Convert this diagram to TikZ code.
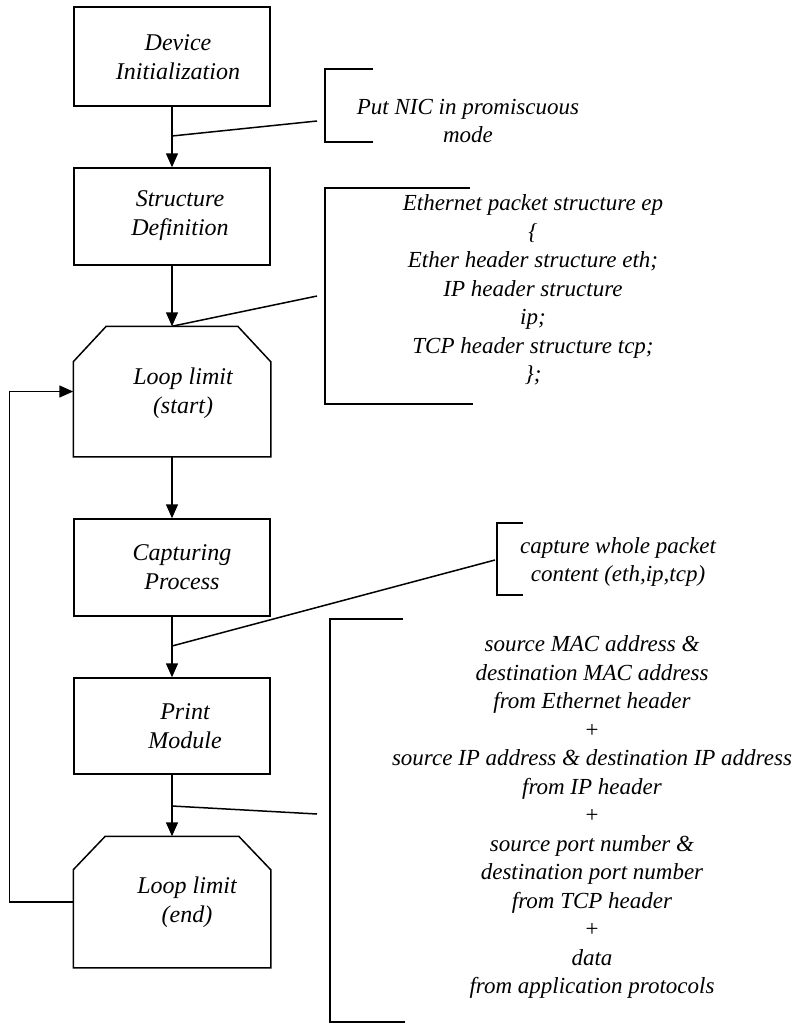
\documentclass[tikz,border=0pt]{standalone}
\usepackage{fontspec}
\setmainfont{Liberation Serif}
\usetikzlibrary{arrows.meta}
\begin{document}
\begin{tikzpicture}[x=1pt,y=-1pt,
  line width=1.5pt,
  every node/.style={font=\fontsize{23}{28.5}\selectfont\itshape, align=center},
  procbox/.style={draw, rectangle, minimum width=196pt, minimum height=97pt, inner sep=0pt},
  loopbox/.style={draw=none, rectangle, minimum width=196pt, minimum height=129pt, inner sep=0pt},
  flow/.style={-{Triangle[width=12pt,length=14pt]}},
  txt/.style={inner sep=0pt},
  boxtxt/.style={inner sep=0pt, font=\fontsize{24}{29}\selectfont\itshape}]
\useasboundingbox (0,0) rectangle (795,1026);

% process boxes
\node[procbox, minimum height=99pt] (dev) at (172,56.5) {};
\node[procbox] (str) at (172,216.5) {};
\node[loopbox] (ls) at (172,391.5) {};
\node[procbox] (cap) at (172,567.5) {};
\node[procbox, minimum height=96pt] (prt) at (172,726) {};
\node[loopbox, minimum height=130pt] (le) at (172,902) {};

% loop limit outlines (chamfered tops)
\draw (ls.south west) -- ([yshift=95pt]ls.south west) -- ([xshift=33pt]ls.north west)
  -- ([xshift=-33pt]ls.north east) -- ([yshift=95pt]ls.south east) -- (ls.south east) -- cycle;
\draw (le.south west) -- ([yshift=98pt]le.south west) -- ([xshift=32pt]le.north west)
  -- ([xshift=-32pt]le.north east) -- ([yshift=98pt]le.south east) -- (le.south east) -- cycle;

% box texts
\node[boxtxt] (tdev) at (178,57.5) {Device\\Initialization};
\node[boxtxt] (tstr) at (180,216) {Structure\\Definition};
\node[boxtxt] (tls) at (183,393) {Loop limit\\(start)};
\node[boxtxt] (tcap) at (182,567) {Capturing\\Process};
\node[boxtxt] (tprt) at (185,726) {Print\\Module};
\node[boxtxt] (tle) at (187,902) {Loop limit\\(end)};

% flow arrows
\draw[flow] (dev.south) -- (str.north);
\draw[flow] (str.south) -- (ls.north);
\draw[flow] (ls.south) -- (cap.north);
\draw[flow] (cap.south) -- (prt.north);
\draw[flow] (prt.south) -- (le.north);
\draw[flow] (le.west) -- ++(-64,0) |- (ls.west);

% annotation brackets
\coordinate (b1t) at (373,69); \coordinate (b1b) at (373,142);
\draw (b1t) -- (325,69) -- (325,142) -- (b1b);
\coordinate (b2t) at (470,188); \coordinate (b2b) at (473,404);
\draw (b2t) -- (325,188) -- (325,404) -- (b2b);
\coordinate (b3t) at (523,523); \coordinate (b3b) at (523,595);
\draw (b3t) -- (497,523) -- (497,595) -- (b3b);
\coordinate (b4t) at (403,619); \coordinate (b4b) at (405,1022);
\draw (b4t) -- (330,619) -- (330,1022) -- (b4b);

% annotation leader lines
\coordinate (a1s) at (172,136); \coordinate (a1e) at (317,121);
\draw (a1s) -- (a1e);
\coordinate (a2e) at (317,296);
\draw (ls.north) -- (a2e);
\coordinate (a3s) at (172,646); \coordinate (a3e) at (495,560);
\draw (a3s) -- (a3e);
\coordinate (a4s) at (172,806); \coordinate (a4e) at (317,814);
\draw (a4s) -- (a4e);

% annotation texts
\node[txt] (n1) at (468,121) {Put NIC in promiscuous\\mode};
\node[txt] (n2) at (533,290) {Ethernet packet structure ep\\\{\\Ether header structure eth;\\IP header structure\\ip;\\TCP header structure tcp;\\\};};
\node[txt] (n3) at (618,562) {capture whole packet\\content (eth,ip,tcp)};
\node[txt] (n4) at (592,817) {source MAC address \&\\destination MAC address\\from Ethernet header\\+\\source IP address \& destination IP address\\from IP header\\+\\source port number \&\\destination port number\\from TCP header\\+\\data\\from application protocols};
\end{tikzpicture}
\end{document}
